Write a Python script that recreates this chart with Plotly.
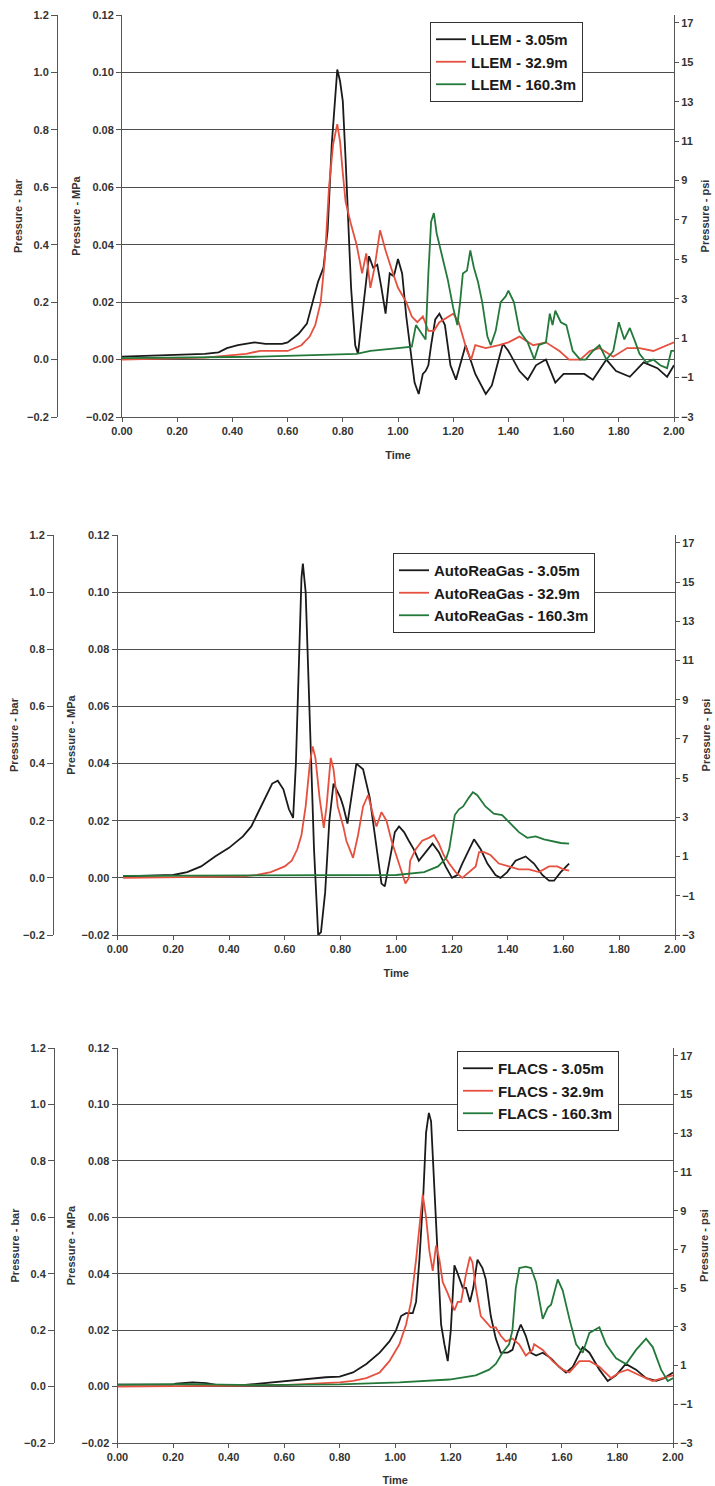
import plotly.graph_objects as go

W, H = 715, 1486

# ---------------- DATA (time, pressure in MPa) ----------------
llem_305_t = [0.00, 0.20, 0.30, 0.35, 0.38, 0.42, 0.48, 0.52, 0.58, 0.60, 0.64, 0.67, 0.69, 0.71, 0.73, 0.745,
              0.76, 0.775, 0.78, 0.79, 0.80, 0.81, 0.82, 0.83, 0.845, 0.855, 0.87, 0.885, 0.895, 0.91, 0.925,
              0.94, 0.955, 0.97, 0.985, 1.00, 1.015, 1.03, 1.045, 1.06, 1.075, 1.09, 1.10, 1.11, 1.12, 1.135,
              1.15, 1.17, 1.19, 1.21, 1.245, 1.28, 1.318, 1.34, 1.38, 1.40, 1.44, 1.47, 1.50, 1.536, 1.57,
              1.60, 1.645, 1.675, 1.706, 1.755, 1.79, 1.84, 1.89, 1.94, 1.975, 2.00]
llem_305_v = [0.001, 0.0015, 0.002, 0.0025, 0.004, 0.005, 0.006, 0.0055, 0.0055, 0.006, 0.009, 0.0125, 0.020,
              0.027, 0.032, 0.045, 0.075, 0.097, 0.101, 0.097, 0.090, 0.070, 0.050, 0.025, 0.005, 0.002, 0.015,
              0.028, 0.036, 0.032, 0.033, 0.025, 0.016, 0.030, 0.029, 0.035, 0.030, 0.015, 0.003, -0.008,
              -0.012, -0.005, -0.004, -0.002, 0.005, 0.014, 0.016, 0.012, -0.002, -0.007, 0.005, -0.005,
              -0.012, -0.009, 0.0055, 0.003, -0.004, -0.007, -0.002, 0.000, -0.008, -0.005, -0.005, -0.005,
              -0.007, 0.000, -0.004, -0.006, -0.001, -0.003, -0.006, -0.002]

llem_329_t = [0.00, 0.30, 0.45, 0.50, 0.60, 0.65, 0.68, 0.70, 0.72, 0.735, 0.75, 0.765, 0.78, 0.79, 0.80, 0.81,
              0.83, 0.85, 0.87, 0.885, 0.90, 0.915, 0.935, 0.955, 0.975, 1.00, 1.03, 1.05, 1.07, 1.09, 1.11,
              1.13, 1.15, 1.20, 1.22, 1.25, 1.265, 1.28, 1.318, 1.366, 1.40, 1.44, 1.49, 1.536, 1.585, 1.62,
              1.66, 1.695, 1.73, 1.78, 1.83, 1.875, 1.925, 1.975, 2.00]
llem_329_v = [0.000, 0.0007, 0.002, 0.003, 0.003, 0.005, 0.008, 0.012, 0.020, 0.035, 0.060, 0.075, 0.082, 0.076,
              0.065, 0.055, 0.047, 0.040, 0.030, 0.037, 0.025, 0.032, 0.045, 0.038, 0.032, 0.025, 0.020, 0.015,
              0.013, 0.015, 0.010, 0.010, 0.013, 0.016, 0.013, 0.003, 0.000, 0.005, 0.004, 0.005, 0.006, 0.008,
              0.005, 0.006, 0.003, 0.000, 0.000, 0.003, 0.004, 0.001, 0.004, 0.004, 0.003, 0.005, 0.006]

llem_1603_t = [0.00, 0.50, 0.85, 0.90, 1.00, 1.05, 1.065, 1.08, 1.10, 1.11, 1.12, 1.13, 1.14, 1.16, 1.18, 1.20,
               1.215, 1.225, 1.235, 1.25, 1.262, 1.275, 1.29, 1.305, 1.324, 1.336, 1.354, 1.372, 1.39, 1.40,
               1.42, 1.44, 1.47, 1.494, 1.51, 1.536, 1.55, 1.56, 1.57, 1.59, 1.61, 1.633, 1.66, 1.68, 1.706,
               1.73, 1.755, 1.78, 1.80, 1.82, 1.84, 1.86, 1.875, 1.90, 1.925, 1.95, 1.975, 1.99, 2.00]
llem_1603_v = [0.0005, 0.001, 0.002, 0.003, 0.004, 0.0045, 0.012, 0.010, 0.007, 0.030, 0.048, 0.051, 0.044,
               0.036, 0.028, 0.018, 0.012, 0.020, 0.030, 0.031, 0.038, 0.032, 0.027, 0.020, 0.008, 0.005,
               0.010, 0.020, 0.022, 0.024, 0.020, 0.010, 0.006, 0.000, 0.005, 0.006, 0.016, 0.012, 0.017,
               0.013, 0.012, 0.003, 0.000, 0.000, 0.003, 0.005, 0.000, 0.003, 0.013, 0.007, 0.011, 0.006,
               0.002, -0.001, 0.000, -0.002, -0.003, 0.003, 0.003]

arg_305_t = [0.02, 0.20, 0.25, 0.30, 0.35, 0.40, 0.45, 0.48, 0.50, 0.51, 0.53, 0.555, 0.575, 0.595, 0.615, 0.63,
             0.64, 0.65, 0.66, 0.665, 0.675, 0.685, 0.695, 0.705, 0.715, 0.72, 0.73, 0.745, 0.76, 0.775, 0.79,
             0.80, 0.81, 0.825, 0.857, 0.881, 0.905, 0.929, 0.947, 0.959, 0.977, 0.995, 1.01, 1.028, 1.045,
             1.063, 1.081, 1.105, 1.13, 1.153, 1.177, 1.20, 1.219, 1.237, 1.26, 1.279, 1.303, 1.327, 1.356,
             1.374, 1.398, 1.428, 1.464, 1.494, 1.524, 1.548, 1.566, 1.59, 1.62]
arg_305_v = [0.0005, 0.001, 0.002, 0.004, 0.0075, 0.0105, 0.0145, 0.018, 0.022, 0.024, 0.028, 0.033, 0.034,
             0.031, 0.024, 0.021, 0.040, 0.075, 0.105, 0.110, 0.100, 0.070, 0.040, 0.010, -0.010, -0.020,
             -0.019, -0.005, 0.020, 0.033, 0.030, 0.028, 0.025, 0.019, 0.040, 0.038, 0.028, 0.010, -0.002,
             -0.003, 0.006, 0.016, 0.018, 0.016, 0.013, 0.010, 0.006, 0.009, 0.012, 0.009, 0.004, 0.000,
             0.001, 0.005, 0.010, 0.0135, 0.010, 0.005, 0.001, 0.000, 0.002, 0.006, 0.0075, 0.005, 0.001,
             -0.001, -0.001, 0.002, 0.005]

arg_329_t = [0.02, 0.45, 0.50, 0.55, 0.60, 0.625, 0.645, 0.66, 0.675, 0.69, 0.70, 0.71, 0.725, 0.74, 0.75, 0.765,
             0.775, 0.79, 0.81, 0.821, 0.845, 0.863, 0.881, 0.899, 0.917, 0.929, 0.947, 0.965, 0.983, 1.00,
             1.018, 1.033, 1.045, 1.05, 1.07, 1.093, 1.117, 1.135, 1.153, 1.17, 1.19, 1.213, 1.237, 1.26,
             1.285, 1.297, 1.315, 1.338, 1.368, 1.404, 1.44, 1.476, 1.512, 1.548, 1.578, 1.60, 1.62]
arg_329_v = [0.000, 0.0005, 0.001, 0.002, 0.004, 0.006, 0.010, 0.015, 0.025, 0.040, 0.046, 0.042, 0.028, 0.0175,
             0.025, 0.042, 0.038, 0.025, 0.018, 0.013, 0.007, 0.015, 0.025, 0.029, 0.022, 0.018, 0.023, 0.020,
             0.013, 0.008, 0.002, -0.002, 0.000, 0.006, 0.010, 0.013, 0.014, 0.015, 0.012, 0.008, 0.005,
             0.002, 0.000, 0.002, 0.004, 0.009, 0.009, 0.008, 0.005, 0.004, 0.003, 0.003, 0.002, 0.004,
             0.004, 0.003, 0.0025]

arg_1603_t = [0.02, 1.00, 1.10, 1.15, 1.18, 1.19, 1.20, 1.21, 1.225, 1.24, 1.26, 1.275, 1.29, 1.32, 1.35, 1.38,
              1.41, 1.44, 1.47, 1.50, 1.53, 1.56, 1.59, 1.62]
arg_1603_v = [0.0007, 0.001, 0.002, 0.004, 0.007, 0.010, 0.016, 0.022, 0.024, 0.025, 0.028, 0.030, 0.029, 0.025,
              0.0225, 0.022, 0.019, 0.016, 0.014, 0.0145, 0.0135, 0.0128, 0.0122, 0.012]

flacs_305_t = [0.00, 0.20, 0.21, 0.27, 0.32, 0.36, 0.45, 0.50, 0.60, 0.70, 0.75, 0.80, 0.848, 0.896, 0.944,
               0.979, 1.003, 1.021, 1.039, 1.063, 1.075, 1.087, 1.101, 1.111, 1.121, 1.129, 1.141, 1.153,
               1.165, 1.177, 1.189, 1.20, 1.213, 1.225, 1.243, 1.255, 1.269, 1.281, 1.296, 1.314, 1.326,
               1.344, 1.362, 1.38, 1.404, 1.422, 1.44, 1.452, 1.47, 1.488, 1.507, 1.531, 1.561, 1.59, 1.615,
               1.639, 1.675, 1.699, 1.735, 1.765, 1.795, 1.83, 1.867, 1.903, 1.94, 1.969, 2.00]
flacs_305_v = [0.0007, 0.0007, 0.001, 0.0015, 0.0012, 0.0005, 0.0005, 0.001, 0.002, 0.0028, 0.0033, 0.0035,
               0.005, 0.008, 0.012, 0.016, 0.020, 0.025, 0.026, 0.026, 0.030, 0.045, 0.068, 0.090, 0.097,
               0.094, 0.070, 0.045, 0.022, 0.015, 0.009, 0.020, 0.043, 0.040, 0.035, 0.035, 0.030, 0.035,
               0.045, 0.042, 0.038, 0.025, 0.017, 0.012, 0.012, 0.013, 0.019, 0.022, 0.018, 0.012, 0.011,
               0.012, 0.010, 0.007, 0.005, 0.007, 0.014, 0.012, 0.006, 0.002, 0.004, 0.008, 0.006, 0.003,
               0.002, 0.003, 0.005]

flacs_329_t = [0.00, 0.60, 0.80, 0.848, 0.896, 0.944, 0.979, 1.015, 1.039, 1.057, 1.075, 1.089, 1.099, 1.111,
               1.123, 1.135, 1.147, 1.159, 1.171, 1.189, 1.20, 1.213, 1.225, 1.237, 1.255, 1.269, 1.278, 1.29,
               1.308, 1.326, 1.344, 1.362, 1.38, 1.398, 1.422, 1.446, 1.47, 1.494, 1.50, 1.531, 1.567, 1.603,
               1.627, 1.663, 1.70, 1.735, 1.777, 1.807, 1.837, 1.879, 1.927, 1.963, 2.00]
flacs_329_v = [0.000, 0.0005, 0.0015, 0.002, 0.003, 0.005, 0.009, 0.015, 0.022, 0.030, 0.045, 0.060, 0.068,
               0.060, 0.048, 0.041, 0.050, 0.045, 0.037, 0.033, 0.030, 0.027, 0.030, 0.030, 0.040, 0.046,
               0.044, 0.035, 0.025, 0.023, 0.021, 0.021, 0.018, 0.016, 0.017, 0.015, 0.011, 0.013, 0.015,
               0.013, 0.009, 0.006, 0.005, 0.009, 0.009, 0.007, 0.003, 0.005, 0.006, 0.004, 0.002, 0.003,
               0.004]

flacs_1603_t = [0.00, 0.25, 0.50, 0.80, 1.015, 1.195, 1.29, 1.338, 1.362, 1.386, 1.41, 1.422, 1.434, 1.447, 1.47,
                1.489, 1.507, 1.519, 1.531, 1.549, 1.561, 1.585, 1.603, 1.627, 1.651, 1.675, 1.699, 1.735,
                1.759, 1.795, 1.831, 1.867, 1.903, 1.927, 1.957, 1.981, 2.00]
flacs_1603_v = [0.0007, 0.0009, 0.0005, 0.0008, 0.0015, 0.0025, 0.004, 0.006, 0.008, 0.012, 0.015, 0.020, 0.035,
                0.042, 0.0425, 0.042, 0.037, 0.030, 0.024, 0.028, 0.029, 0.038, 0.034, 0.024, 0.015, 0.012,
                0.019, 0.021, 0.015, 0.010, 0.008, 0.013, 0.017, 0.014, 0.006, 0.002, 0.003]

panels = [
    ("LLEM", [(llem_305_t, llem_305_v), (llem_329_t, llem_329_v), (llem_1603_t, llem_1603_v)]),
    ("AutoReaGas", [(arg_305_t, arg_305_v), (arg_329_t, arg_329_v), (arg_1603_t, arg_1603_v)]),
    ("FLACS", [(flacs_305_t, flacs_305_v), (flacs_329_t, flacs_329_v), (flacs_1603_t, flacs_1603_v)]),
]
distances = ["3.05m", "32.9m", "160.3m"]
colors = ["#1a1a1a", "#e5503f", "#23793a"]

# pixel layout of each panel: (left, right, top, bottom, bar-axis x, legend x, legend y)
geo = [
    (122, 674, 15, 417, 57, 430, 22),
    (117.5, 675, 535, 935, 53, 393, 553),
    (117.5, 673, 1048, 1443, 54, 457, 1051),
]

FONT = "Liberation Sans, Arial, sans-serif"
TXT = "#333333"
AXC = "#555555"

fig = go.Figure()
layout = dict(
    width=W, height=H, margin=dict(l=0, r=0, t=0, b=0, autoexpand=False),
    paper_bgcolor="white", plot_bgcolor="white",
    font=dict(family=FONT, size=11, color=TXT),
)

tickfont = dict(family=FONT, size=11, color=TXT, weight="bold")
titlefont = dict(family=FONT, size=11, color=TXT, weight="bold")

for i, ((name, series), g) in enumerate(zip(panels, geo)):
    L, R, T, B, barx, lgx, lgy = g
    xn = "x" if i == 0 else f"x{i+1}"
    ym = f"y{3*i+1}" if i > 0 else "y"
    yb = f"y{3*i+2}"
    yp = f"y{3*i+3}"
    lg = "legend" if i == 0 else f"legend{i+1}"
    dom_x = [L / W, R / W]
    dom_y = [1 - B / H, 1 - T / H]

    layout["xaxis" if i == 0 else f"xaxis{i+1}"] = dict(
        domain=dom_x, anchor=ym, range=[0, 2], dtick=0.2, tick0=0, tickformat=".2f",
        showline=True, linecolor=AXC, linewidth=1, ticks="outside", ticklen=4, tickcolor=AXC,
        showgrid=False, zeroline=False, tickfont=tickfont, automargin=False,
        title=dict(text="Time", font=titlefont, standoff=15),
    )
    layout["yaxis" if i == 0 else f"yaxis{3*i+1}"] = dict(
        domain=dom_y, anchor=xn, range=[-0.02, 0.12], dtick=0.02, tick0=0, tickformat=".2f",
        showline=True, linecolor=AXC, linewidth=1, ticks="outside", ticklen=5, tickcolor=AXC,
        showgrid=True, gridcolor="#4d4d4d", gridwidth=1, zeroline=False, tickfont=tickfont,
        automargin=False,
        title=dict(text="Pressure - MPa", font=titlefont, standoff=3),
    )
    layout[f"yaxis{3*i+2}"] = dict(
        overlaying=ym, anchor="free", position=barx / W, side="left",
        range=[-0.2, 1.2], dtick=0.2, tick0=0, tickformat=".1f",
        showline=True, linecolor=AXC, linewidth=1, ticks="outside", ticklen=6, tickcolor=AXC,
        showgrid=False, zeroline=False, tickfont=tickfont, automargin=False,
        title=dict(text="Pressure - bar", font=titlefont, standoff=1),
    )
    layout[f"yaxis{3*i+3}"] = dict(
        overlaying=ym, anchor=xn, side="right",
        range=[-3.0, 17.4], tickvals=[-3, -1, 1, 3, 5, 7, 9, 11, 13, 15, 17],
        showline=True, linecolor=AXC, linewidth=1, ticks="outside", ticklen=4, tickcolor=AXC,
        showgrid=False, zeroline=False, tickfont=tickfont, automargin=False,
        title=dict(text="Pressure - psi", font=titlefont, standoff=8),
    )
    layout[lg] = dict(
        x=lgx / W, y=1 - lgy / H, xanchor="left", yanchor="top",
        bgcolor="white", bordercolor="#333333", borderwidth=1,
        font=dict(family=FONT, size=15, color="#1a1a1a", weight="bold"),
        tracegroupgap=0, itemwidth=30,
    )

    for (t, v), dist, col in zip(series, distances, colors):
        fig.add_trace(go.Scatter(
            x=t, y=v, mode="lines", name=f"{name} - {dist}",
            line=dict(color=col, width=1.8), xaxis=xn, yaxis=ym, legend=lg,
        ))
    # anchor traces so the secondary axes are drawn
    fig.add_trace(go.Scatter(x=[None], y=[None], xaxis=xn, yaxis=yb, showlegend=False, hoverinfo="skip"))
    fig.add_trace(go.Scatter(x=[None], y=[None], xaxis=xn, yaxis=yp, showlegend=False, hoverinfo="skip"))

fig.update_layout(**layout)
fig.write_html("out.html")
